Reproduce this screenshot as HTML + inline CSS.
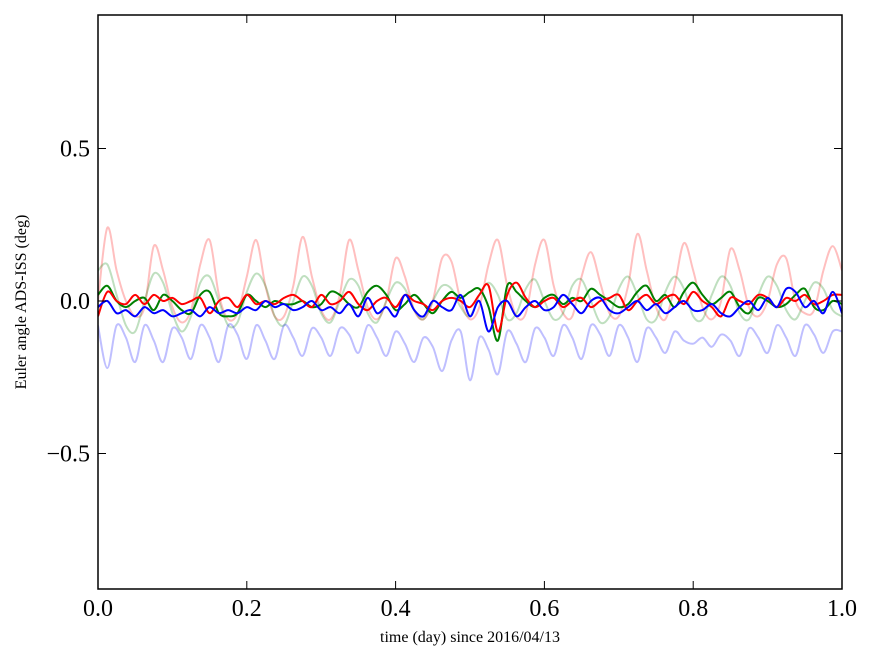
<!DOCTYPE html>
<html><head><meta charset="utf-8"><style>
body{margin:0;background:#fff}
svg{display:block}
text{font-family:"Liberation Serif","DejaVu Serif",serif}
</style></head><body>
<svg id="chart" width="875" height="662" viewBox="0 0 875 662"></svg>
<script>
const xTicks=[0.0,0.2,0.4,0.6,0.8,1.0];
const xTickLabels=["0.0","0.2","0.4","0.6","0.8","1.0"];
const yTicks=[-0.5,0.0,0.5];
const yTickLabels=["\u22120.5","0.0","0.5"];
const lightRed=[0.0,0.24,0.1,0.0,-0.05,-0.02,0.18,0.1,-0.02,-0.07,-0.03,0.12,0.2,0.02,-0.06,-0.04,0.08,0.2,0.05,-0.05,-0.05,0.05,0.21,0.08,-0.03,-0.06,0.02,0.2,0.1,-0.02,-0.06,0.0,0.14,0.08,-0.03,-0.06,0.0,0.14,0.13,0.0,-0.06,-0.02,0.12,0.2,0.05,-0.05,-0.04,0.12,0.2,0.05,-0.04,-0.05,0.08,0.16,0.06,-0.04,-0.05,0.05,0.22,0.1,-0.02,-0.06,0.05,0.19,0.1,-0.02,-0.06,0.0,0.17,0.1,-0.02,-0.05,0.0,0.12,0.14,0.0,-0.04,-0.03,0.1,0.18,0.1];
const lightGreen=[0.1,0.12,0.02,-0.08,-0.1,0.0,0.09,0.06,-0.04,-0.1,-0.05,0.06,0.08,0.0,-0.08,-0.07,0.03,0.09,0.05,-0.05,-0.08,0.0,0.08,0.05,-0.04,-0.07,0.0,0.07,0.05,-0.04,-0.07,0.0,0.06,0.04,-0.03,-0.06,0.0,0.05,0.04,-0.02,-0.05,0.02,0.06,0.02,-0.06,-0.04,0.04,0.07,0.0,-0.06,-0.04,0.05,0.07,0.0,-0.07,-0.05,0.04,0.08,0.02,-0.06,-0.06,0.03,0.08,0.04,-0.05,-0.06,0.02,0.08,0.05,-0.04,-0.06,0.02,0.08,0.05,-0.03,-0.06,0.0,0.06,0.04,-0.03,-0.05];
const lightBlue=[-0.08,-0.22,-0.08,-0.12,-0.2,-0.08,-0.13,-0.2,-0.09,-0.12,-0.19,-0.08,-0.12,-0.2,-0.08,-0.11,-0.19,-0.08,-0.13,-0.19,-0.08,-0.12,-0.18,-0.09,-0.12,-0.18,-0.09,-0.11,-0.17,-0.08,-0.12,-0.18,-0.1,-0.14,-0.2,-0.12,-0.15,-0.23,-0.13,-0.1,-0.26,-0.12,-0.16,-0.24,-0.1,-0.14,-0.2,-0.09,-0.12,-0.18,-0.08,-0.12,-0.19,-0.08,-0.11,-0.18,-0.08,-0.12,-0.2,-0.09,-0.12,-0.17,-0.1,-0.13,-0.14,-0.12,-0.15,-0.11,-0.13,-0.18,-0.09,-0.12,-0.17,-0.08,-0.12,-0.18,-0.08,-0.11,-0.17,-0.1,-0.1];
const green=[0.02,0.05,0.0,-0.02,0.0,0.01,-0.03,0.02,0.0,-0.03,-0.04,0.02,0.03,-0.04,-0.05,-0.04,0.02,0.0,-0.02,0.0,-0.01,-0.01,0.0,-0.02,-0.01,0.03,0.02,-0.01,-0.02,0.03,0.05,0.02,-0.03,-0.01,0.02,-0.01,-0.04,0.0,0.03,0.01,0.03,0.04,-0.02,-0.13,0.05,0.03,0.0,-0.02,0.01,0.02,-0.01,0.01,0.0,0.04,0.02,0.0,-0.02,-0.01,0.03,0.05,0.0,0.02,-0.02,0.03,0.06,0.02,-0.01,0.01,0.03,-0.02,-0.04,0.01,0.0,-0.02,-0.01,0.02,0.04,-0.02,-0.03,0.0,-0.01];
const red=[-0.05,0.03,0.0,-0.01,0.02,-0.01,0.02,0.0,0.01,-0.01,0.0,0.01,-0.04,0.0,0.01,-0.02,0.02,-0.01,0.0,-0.01,0.01,0.02,0.0,-0.02,0.02,-0.01,0.0,0.03,-0.01,-0.03,0.0,0.01,-0.02,0.02,0.0,-0.01,-0.03,0.0,0.01,0.0,-0.02,0.02,0.05,-0.1,0.02,0.06,0.01,-0.02,0.0,0.01,-0.02,0.0,0.01,-0.02,0.0,0.01,0.02,-0.03,0.0,0.02,-0.01,0.01,0.02,-0.01,0.03,0.0,-0.02,-0.05,0.01,0.0,-0.01,0.02,0.01,-0.02,0.01,0.0,0.02,-0.01,0.0,0.02,0.02];
const blue=[-0.02,0.0,-0.04,-0.03,-0.05,-0.02,-0.04,-0.03,-0.05,-0.04,-0.03,-0.05,-0.02,-0.04,-0.03,-0.04,-0.02,-0.03,0.0,-0.02,-0.01,-0.03,-0.02,0.0,-0.03,-0.02,-0.04,-0.01,-0.05,0.01,-0.04,-0.02,-0.05,0.02,-0.03,-0.05,0.0,-0.02,-0.03,0.02,-0.05,0.0,-0.1,-0.02,0.0,-0.05,-0.02,0.0,-0.03,-0.02,0.02,-0.01,-0.04,0.0,0.01,-0.03,-0.04,-0.02,0.0,-0.03,-0.01,-0.04,-0.02,0.0,-0.03,-0.03,-0.01,-0.04,-0.05,-0.02,0.0,-0.03,0.01,-0.02,0.04,0.03,-0.02,0.0,-0.04,0.03,-0.04];

const L=98,R=842,T=15,B=589;
const X=v=>L+(R-L)*v;
const Y=v=>301-v*305;
const svg=document.getElementById('chart');
const NS='http://www.w3.org/2000/svg';
function mk(tag,attrs,parent){const e=document.createElementNS(NS,tag);for(const k in attrs)e.setAttribute(k,attrs[k]);(parent||svg).appendChild(e);return e;}
function smooth(pts){
  let d='M'+pts[0][0].toFixed(1)+','+pts[0][1].toFixed(1);
  for(let i=0;i<pts.length-1;i++){
    const p0=pts[Math.max(0,i-1)],p1=pts[i],p2=pts[i+1],p3=pts[Math.min(pts.length-1,i+2)];
    const c1x=p1[0]+(p2[0]-p0[0])/6,c1y=p1[1]+(p2[1]-p0[1])/6;
    const c2x=p2[0]-(p3[0]-p1[0])/6,c2y=p2[1]-(p3[1]-p1[1])/6;
    d+='C'+c1x.toFixed(1)+','+c1y.toFixed(1)+' '+c2x.toFixed(1)+','+c2y.toFixed(1)+' '+p2[0].toFixed(1)+','+p2[1].toFixed(1);
  }
  return d;
}
const clip=mk('clipPath',{id:'pc'});mk('rect',{x:L,y:T,width:R-L,height:B-T},clip);
const g=mk('g',{'clip-path':'url(#pc)'});
const series=[[lightRed,'#ff0000',0.25,'light-red-series'],[lightGreen,'#008000',0.25,'light-green-series'],[lightBlue,'#0000ff',0.25,'light-blue-series'],[green,'#008000',1,'green-series'],[red,'#ff0000',1,'red-series'],[blue,'#0000ff',1,'blue-series']];
series.forEach(s=>{
  const pts=s[0].map((v,i)=>[X(i/(s[0].length-1)),Y(v)]);
  const p=mk('path',{d:smooth(pts),fill:'none',stroke:s[1],'stroke-opacity':s[2],'stroke-width':2,'stroke-linejoin':'round'},g);
  
  
});
const frame=mk('rect',{x:L,y:T,width:R-L,height:B-T,fill:'none',stroke:'#000','stroke-width':1.5});


xTicks.forEach((v,i)=>{
  mk('line',{x1:X(v),x2:X(v),y1:B,y2:B-8,stroke:'#000'});
  mk('line',{x1:X(v),x2:X(v),y1:T,y2:T+8,stroke:'#000'});
  const t=mk('text',{x:X(v),y:B+27,'font-size':24,'text-anchor':'middle'});t.textContent=xTickLabels[i];
  
  
});
yTicks.forEach((v,i)=>{
  mk('line',{x1:L,x2:L+8,y1:Y(v),y2:Y(v),stroke:'#000'});
  mk('line',{x1:R,x2:R-8,y1:Y(v),y2:Y(v),stroke:'#000'});
  const t=mk('text',{x:L-8,y:Y(v)+8,'font-size':24,'text-anchor':'end'});t.textContent=yTickLabels[i];
  
  
});
const xt=mk('text',{x:470,y:642,'font-size':16,'text-anchor':'middle'});xt.textContent='time (day) since 2016/04/13';


const yt=mk('text',{x:0,y:0,'font-size':16,'text-anchor':'middle',transform:'translate(26,302) rotate(-90)'});yt.textContent='Euler angle ADS-ISS (deg)';


</script>
</body></html>
